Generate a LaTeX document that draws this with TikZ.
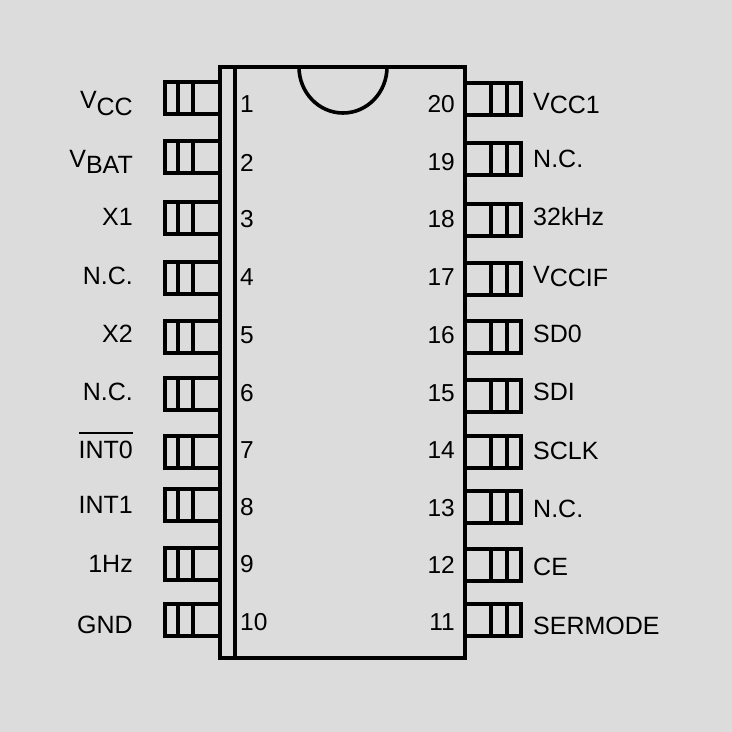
\documentclass[tikz,border=0pt]{standalone}
\usepackage{fontspec}
\setmainfont{Liberation Sans}
\usepackage{xcolor}
\definecolor{chipback}{HTML}{DCDCDC}
\newcommand{\barred}[1]{\leavevmode\setbox0\hbox{#1}\rlap{\rule[24pt]{\wd0}{1.7pt}}\box0}
\tikzset{
    chipline/.style={draw=black, line width=3.6pt},
    pinline/.style={draw=black, line width=3.6pt, line join=miter},
    pinnum/.style={font=\fontsize{24.5}{24.5}\selectfont, inner sep=0pt},
    pinlabel/.style={font=\fontsize{25}{25}\selectfont, inner sep=0pt},
}
\begin{document}
\begin{tikzpicture}[x=1pt,y=-1pt]
        \useasboundingbox[fill=chipback] (0,0) rectangle (732,732);
        % package outline with the notch
        \draw[chipline] (220,67) rectangle (465,658);
        \draw[chipline] (235,67) -- (235,658);
        \draw[chipline] (299,67) arc (180:360:44 and -46);
        % left pins
        \foreach \n/\y/\numy/\laby/\lab in {
            1/98/112/108/{V\raisebox{-7pt}{CC}},
            2/157/171/167/{V\raisebox{-6pt}{BAT}},
            3/218/227/225/{X1},
            4/278/285/284/{N.C.},
            5/337/343/342/{X2},
            6/394/401/400/{N.C.},
            7/452/458/458/{\barred{INT0}},
            8/505/515/513/{INT1},
            9/564/572/572/{1Hz},
            10/620/630/633/{GND}} {
            \draw[pinline] (220,\y-16) -- (165,\y-16) -- (165,\y+16) -- (220,\y+16);
            \draw[pinline] (178,\y-16) -- (178,\y+16);
            \draw[pinline] (193,\y-16) -- (193,\y+16);
            \node[pinnum, anchor=base west] (num\n) at (240,\numy) {\n};
            \node[pinlabel, anchor=base east] (label\n) at (133,\laby) {\lab};
        }
        % right pins
        \foreach \n/\y/\numy/\laby/\lab in {
            20/99/112/110/{V\raisebox{-3pt}{CC1}},
            19/159/170/167/{N.C.},
            18/220/227/225/{32kHz},
            17/279/285/283/{V\raisebox{-3pt}{CCIF}},
            16/337/343/342/{SD0},
            15/396/401/400/{SDI},
            14/452/458/459/{SCLK},
            13/507/516/517/{N.C.},
            12/565/573/575/{CE},
            11/620/630/634/{SERMODE}} {
            \draw[pinline] (465,\y-16) -- (521,\y-16) -- (521,\y+16) -- (465,\y+16);
            \draw[pinline] (491,\y-16) -- (491,\y+16);
            \draw[pinline] (507,\y-16) -- (507,\y+16);
            \node[pinnum, anchor=base east] (num\n) at (455,\numy) {\n};
            \node[pinlabel, anchor=base west] (label\n) at (533,\laby) {\lab};
        }
    \end{tikzpicture}
\end{document}
